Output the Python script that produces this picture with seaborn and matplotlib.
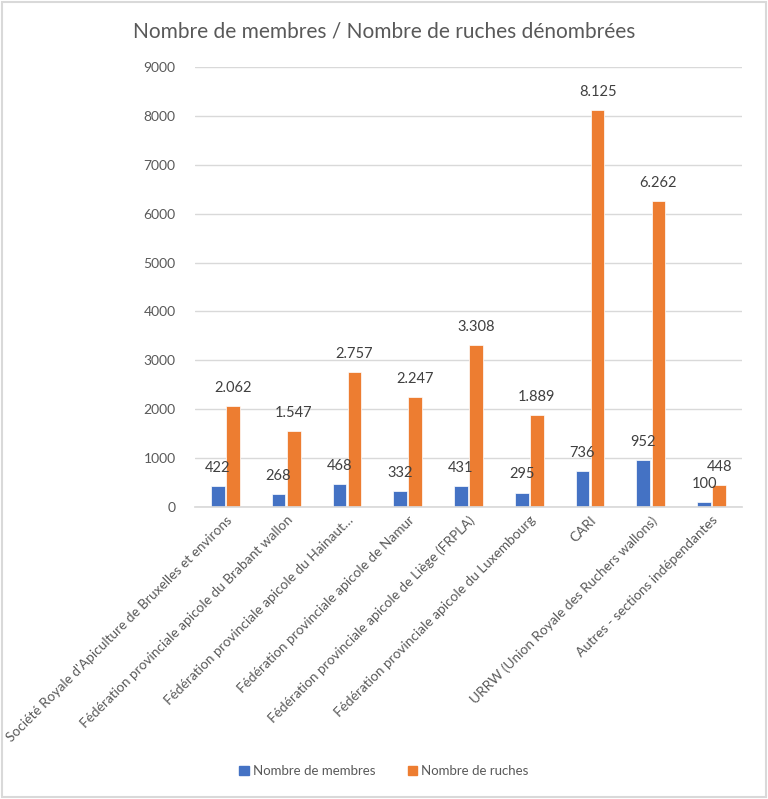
import matplotlib
matplotlib.use("Agg")
import matplotlib.pyplot as plt
import seaborn as sns
import pandas as pd
from matplotlib.patches import Rectangle

categories = [
    "Société Royale d'Apiculture de Bruxelles et environs",
    "Fédération provinciale apicole du Brabant wallon",
    "Fédération provinciale apicole du Hainaut…",
    "Fédération provinciale apicole de Namur",
    "Fédération provinciale apicole de Liège (FRPLA)",
    "Fédération provinciale apicole du Luxembourg",
    "CARI",
    "URRW (Union Royale des Ruchers wallons)",
    "Autres - sections indépendantes",
]
membres = [422, 268, 468, 332, 431, 295, 736, 952, 100]
ruches = [2062, 1547, 2757, 2247, 3308, 1889, 8125, 6262, 448]
series_names = ["Nombre de membres", "Nombre de ruches"]
yticks = [0, 1000, 2000, 3000, 4000, 5000, 6000, 7000, 8000, 9000]

sns.set_theme(style="white")
plt.rcParams["font.family"] = ["Lato", "DejaVu Sans"]

df = pd.DataFrame({
    "cat": categories * 2,
    "val": membres + ruches,
    "serie": [series_names[0]] * len(categories) + [series_names[1]] * len(categories),
})

fig = plt.figure(figsize=(7.68, 7.99), dpi=100)
ax = fig.add_axes([195 / 768, 1 - 507 / 799, 547 / 768, 440 / 799])

palette = {series_names[0]: "#4472C4", series_names[1]: "#ED7D31"}
sns.barplot(data=df, x="cat", y="val", hue="serie", palette=palette,
            width=0.5, gap=0.1, ax=ax, legend=False, saturation=1,
            edgecolor="white", linewidth=0.5)

def fmt(v):
    return f"{v:,}".replace(",", ".")

for cont in ax.containers:
    for bar in cont:
        h = bar.get_height()
        ax.annotate(fmt(int(round(h))), (bar.get_x() + bar.get_width() / 2, h),
                    xytext=(0, 8), textcoords="offset points", ha="center",
                    va="bottom", fontsize=10.5, color="#404040")

ax.set_ylim(0, 9000)
ax.set_yticks(yticks)
ax.set_yticklabels([str(t) for t in yticks], fontsize=10, color="#595959")
ax.tick_params(axis="y", length=0, pad=14)
ax.tick_params(axis="x", length=0, pad=5)
ax.yaxis.grid(True, color="#d9d9d9", linewidth=1)
ax.set_axisbelow(True)
for s in ["top", "right", "left"]:
    ax.spines[s].set_visible(False)
ax.spines["bottom"].set_color("#d9d9d9")
ax.set_xlim(-0.5, len(categories) - 0.5)
ax.set_xticks(range(len(categories)))
ax.set_xticklabels(categories, rotation=45, ha="right", rotation_mode="anchor",
                   fontsize=9.8, color="#595959")
ax.set_xlabel("")
ax.set_ylabel("")

fig.text(384 / 768, 1 - 31 / 799, "Nombre de membres / Nombre de ruches dénombrées",
         ha="center", va="center", fontsize=15, color="#595959")

handles = [Rectangle((0, 0), 1, 1, color=palette[s]) for s in series_names]
fig.legend(handles, series_names, loc="center", bbox_to_anchor=(384 / 768, 1 - 771 / 799),
           ncol=2, frameon=False, fontsize=9.5, handlelength=0.7, handleheight=0.7,
           handletextpad=0.3, columnspacing=2.5, labelcolor="#595959")

fig.patches.append(Rectangle((0.002, 0.002), 0.996, 0.996, transform=fig.transFigure,
                             fill=False, edgecolor="#d9d9d9", linewidth=1.5))

fig.savefig("out.png", dpi=100)
